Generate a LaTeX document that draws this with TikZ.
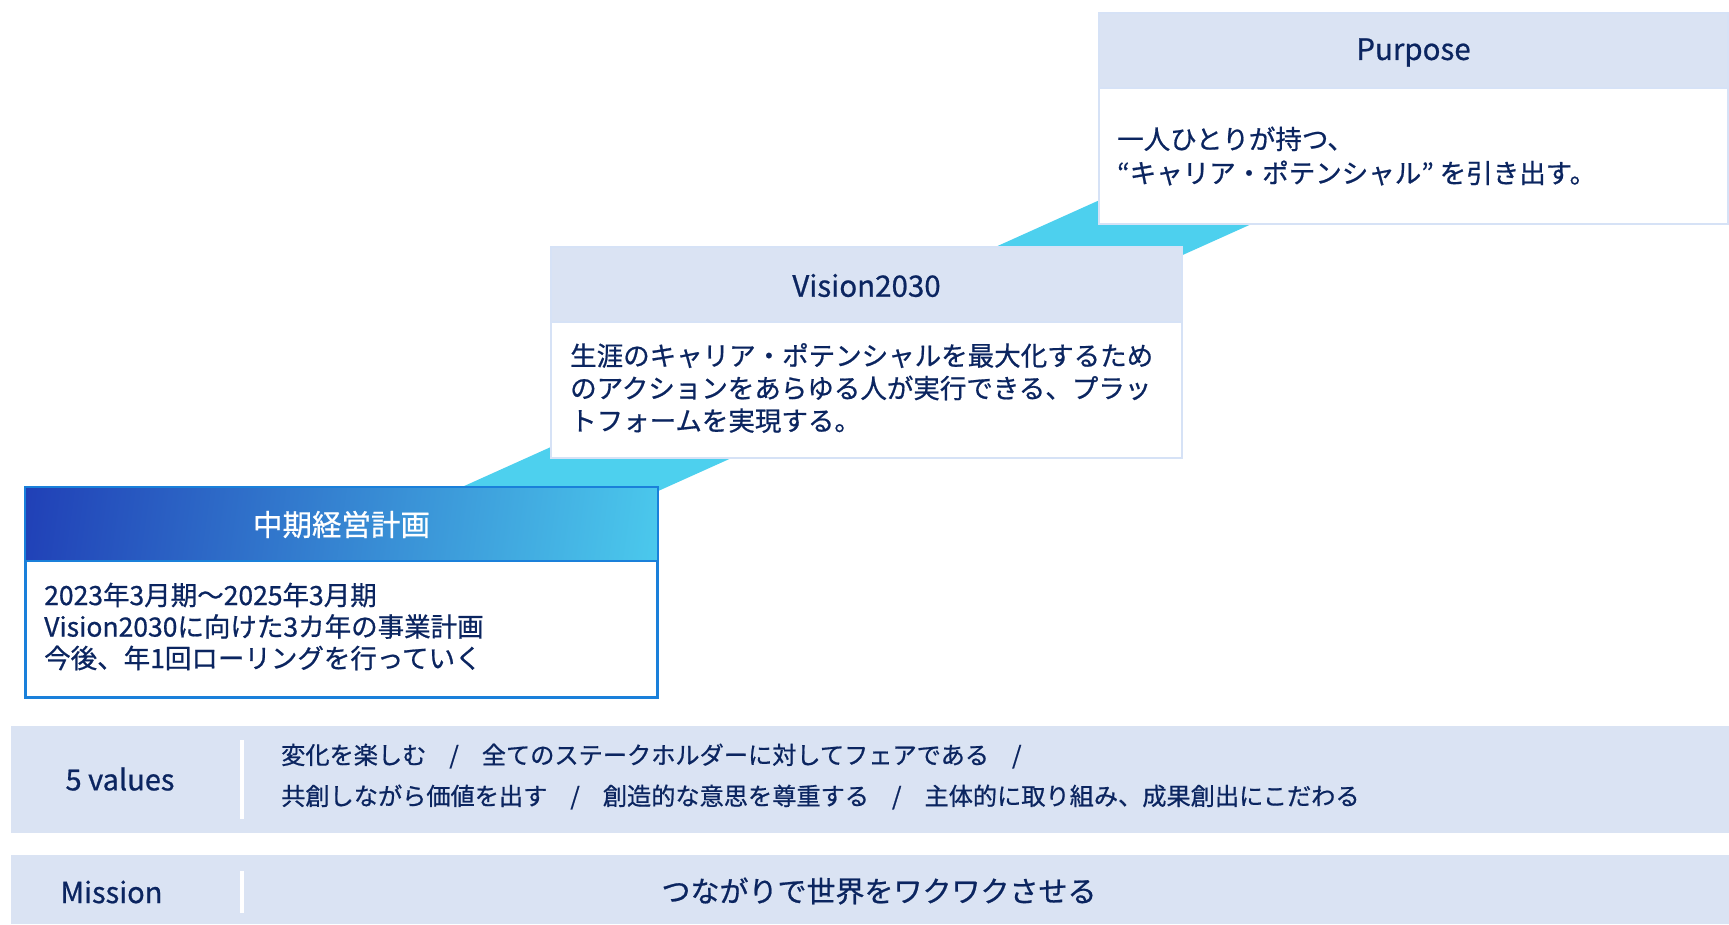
\documentclass[tikz,border=0pt]{standalone}
\usepackage{fontspec}
\setmainfont{Noto Sans CJK JP}[FakeBold=0.7]
\definecolor{navy}{HTML}{0B2560}
\definecolor{hdrbg}{HTML}{DAE3F3}
\definecolor{ribbon}{HTML}{4DD0EE}
\definecolor{boxblue}{HTML}{1A80DA}
\definecolor{boxlight}{HTML}{D6E2F6}
\definecolor{gradA}{HTML}{1F3CB5}
\definecolor{gradB}{HTML}{4CCDEE}
\newcommand\vsl{\hspace{0.95em}/\hspace{0.95em}}
\pgfdeclarehorizontalshading{hdrgrad}{100bp}{color(0bp)=(gradA); color(20bp)=(gradA); color(80bp)=(gradB); color(100bp)=(gradB)}
\begin{document}
\begin{tikzpicture}[x=1pt,y=-1pt,
  hdrtext/.style={text=navy, font=\fontsize{29.5}{32}\selectfont, inner sep=0pt},
  bodytext/.style={text=navy, font=\fontsize{26.5}{32.5}\selectfont, inner sep=0pt, anchor=west, align=left},
  headbox/.style={fill=hdrbg, draw=boxlight, line width=2pt, inner sep=0pt, anchor=north west, minimum height=75pt},
  bodybox/.style={fill=white, draw=boxlight, line width=2pt, inner sep=0pt, anchor=north west, minimum height=136pt},
  band/.style={fill=hdrbg, draw=none, inner sep=0pt, anchor=north west},
  sepline/.style={draw=white, line width=4pt},
  valtext/.style={text=navy, font=\fontsize{24.2}{28}\selectfont, inner sep=0pt, anchor=west},
  labtext/.style={text=navy, font=\fontsize{29}{32}\selectfont, inner sep=0pt}
]
\useasboundingbox (0,0) rectangle (1729,924);
\fill[white] (0,0) rectangle (1729,924);

% ribbon
\fill[ribbon] (300,559.9) -- (1300,109.9) -- (1400,157.2) -- (400,607.2) -- cycle;

% box 1
\node[headbox, draw=none, minimum width=631pt, minimum height=73pt, shading=hdrgrad, shading angle=-8] (h1) at (25,487) {};
\node[bodybox, draw=boxblue, minimum width=631pt, minimum height=136pt] (b1) at (25,560) {};
\draw[boxblue, line width=2pt] (h1.north west) rectangle (b1.south east);
\node[hdrtext, text=white] (h1t) at (h1.center) {中期経営計画};
\node[bodytext, font=\fontsize{26.5}{31.5}\selectfont] (b1t) at (44,626.5) {2023年3月期～2025年3月期\\Vision2030に向けた3カ年の事業計画\\今後、年1回ローリングを行っていく};

% box 2
\node[headbox, minimum width=631pt] (h2) at (550,246) {};
\node[bodybox, minimum width=631pt] (b2) at (550,321) {};
\node[hdrtext] (h2t) at ([yshift=-1pt]h2.center) {Vision2030};
\node[bodytext] (b2t) at (570,388) {生涯のキャリア・ポテンシャルを最大化するため\\のアクションをあらゆる人が実行できる、プラッ\\トフォームを実現する。};

% box 3
\node[headbox, minimum width=629pt] (h3) at (1098,12) {};
\node[bodybox, minimum width=629pt] (b3) at (1098,87) {};
\node[hdrtext] (h3t) at ([yshift=-2pt]h3.center) {Purpose};
\node[bodytext, font=\fontsize{26.5}{34}\selectfont] (b3t) at (1117,156) {一人ひとりが持つ、\\“キャリア・ポテンシャル” を引き出す。};

% values band
\node[band, minimum width=1718pt, minimum height=107pt] (vb) at (11,726) {};
\coordinate (vs1) at (242,740);
\coordinate (vs2) at (242,819);
\draw[sepline] (vs1) -- (vs2);
\node[labtext] (vl) at (120,779) {5 values};
\node[valtext] (v1) at (281,756) {変化を楽しむ\vsl 全てのステークホルダーに対してフェアである\vsl};
\node[valtext] (v2) at (281,797) {共創しながら価値を出す\vsl 創造的な意思を尊重する\vsl 主体的に取り組み、成果創出にこだわる};

% mission band
\node[band, minimum width=1718pt, minimum height=69pt] (mb) at (11,855) {};
\coordinate (ms1) at (242,871);
\coordinate (ms2) at (242,913);
\draw[sepline] (ms1) -- (ms2);
\node[labtext] (ml) at (111.5,892) {Mission};
\node[labtext] (mt) at (879,891) {つながりで世界をワクワクさせる};
\end{tikzpicture}
\end{document}
